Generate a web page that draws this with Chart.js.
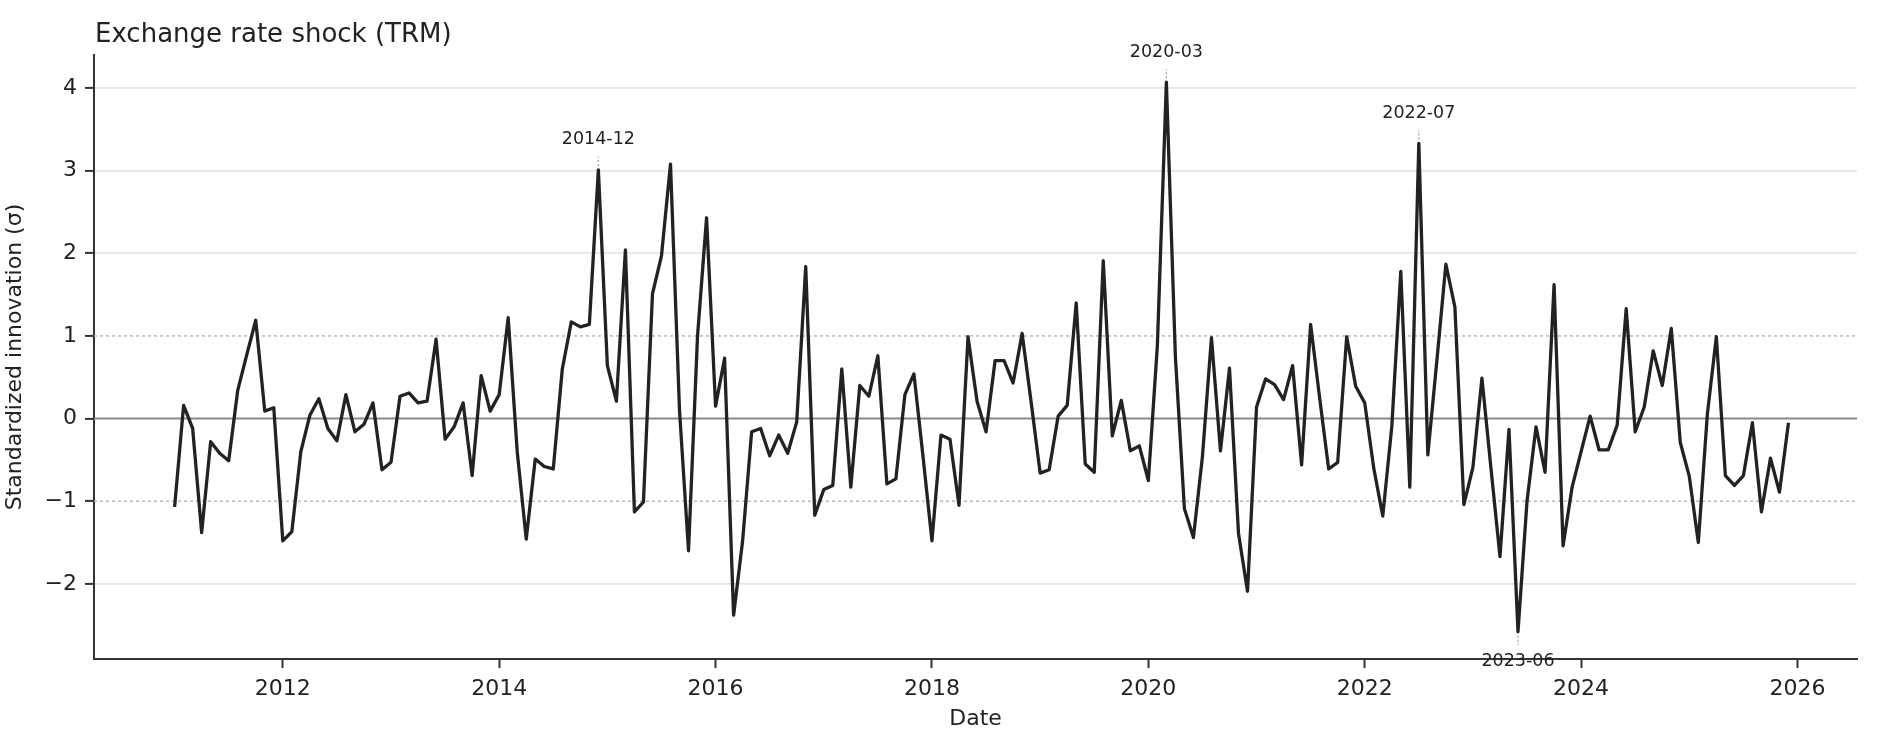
<!DOCTYPE html>
<html>
<head>
<meta charset="utf-8">
<title>Exchange rate shock (TRM)</title>
<script src="https://cdn.jsdelivr.net/npm/chart.js@4.4.1/dist/chart.umd.min.js"></script>
<style>
  html, body { margin: 0; padding: 0; background: #fff; overflow: hidden; }
  #wrap { width: 1877px; height: 748px; position: relative; }
</style>
</head>
<body>
<div id="wrap"><canvas id="shockChart"></canvas></div>
<script>
// Monthly standardized innovations, Jan 2011 - Dec 2025
const startYear = 2011;
const shockValues = [
  -1.07, 0.16, -0.12, -1.38, -0.28, -0.42, -0.51, 0.34, 0.77, 1.19, 0.09, 0.13,   // 2011
  -1.48, -1.37, -0.40, 0.04, 0.24, -0.12, -0.27, 0.29, -0.16, -0.07, 0.19, -0.62, // 2012
  -0.53, 0.27, 0.31, 0.19, 0.21, 0.96, -0.25, -0.10, 0.19, -0.69, 0.52, 0.09,     // 2013
  0.29, 1.22, -0.40, -1.46, -0.49, -0.58, -0.61, 0.60, 1.17, 1.11, 1.14, 3.01,    // 2014
  0.64, 0.21, 2.04, -1.13, -1.01, 1.51, 1.97, 3.08, 0.10, -1.60, 1.00, 2.43,      // 2015
  0.15, 0.73, -2.38, -1.48, -0.16, -0.12, -0.45, -0.20, -0.42, -0.04, 1.84, -1.17, // 2016
  -0.86, -0.81, 0.60, -0.83, 0.40, 0.27, 0.76, -0.79, -0.73, 0.29, 0.54, -0.45,   // 2017
  -1.48, -0.20, -0.25, -1.05, 0.99, 0.21, -0.16, 0.70, 0.70, 0.43, 1.03, 0.20,    // 2018
  -0.66, -0.62, 0.03, 0.16, 1.40, -0.55, -0.65, 1.91, -0.21, 0.22, -0.39, -0.33,  // 2019
  -0.75, 0.88, 4.07, 0.75, -1.09, -1.44, -0.46, 0.98, -0.39, 0.61, -1.39, -2.09,  // 2020
  0.14, 0.48, 0.41, 0.23, 0.64, -0.56, 1.14, 0.25, -0.61, -0.53, 0.99, 0.39,      // 2021
  0.19, -0.60, -1.18, -0.10, 1.78, -0.83, 3.33, -0.44, 0.70, 1.87, 1.35, -1.04,   // 2022
  -0.59, 0.49, -0.60, -1.67, -0.13, -2.58, -1.00, -0.10, -0.65, 1.62, -1.54, -0.83, // 2023
  -0.40, 0.03, -0.38, -0.38, -0.08, 1.33, -0.16, 0.14, 0.82, 0.40, 1.09, -0.29,   // 2024
  -0.70, -1.50, 0.05, 0.99, -0.69, -0.81, -0.69, -0.05, -1.13, -0.48, -0.89, -0.05 // 2025
];
const yearTicks = [2012, 2014, 2016, 2018, 2020, 2022, 2024, 2026];
const sigmaTicks = [-2, -1, 0, 1, 2, 3, 4];
const peakLabels = ['2014-12', '2020-03', '2022-07'];
const troughLabels = ['2023-06'];

const monthLabels = shockValues.map((v, i) => {
  const y = startYear + Math.floor(i / 12);
  const m = (i % 12) + 1;
  return y + '-' + (m < 10 ? '0' + m : m);
});
const points = shockValues.map((v, i) => ({ x: startYear + i / 12, y: v }));

Chart.defaults.font.family = "'DejaVu Sans', sans-serif";
Chart.defaults.color = '#222';

// reference lines at 0 and +/-1 sigma
const refLines = {
  id: 'refLines',
  beforeDatasetsDraw(chart) {
    const { ctx, chartArea, scales } = chart;
    ctx.save();
    [-1, 1].forEach(v => {
      const y = scales.y.getPixelForValue(v);
      ctx.strokeStyle = '#b4b4b4';
      ctx.lineWidth = 1.4;
      ctx.setLineDash([3, 3]);
      ctx.beginPath();
      ctx.moveTo(chartArea.left, y);
      ctx.lineTo(chartArea.right, y);
      ctx.stroke();
    });
    const y0 = scales.y.getPixelForValue(0);
    ctx.setLineDash([]);
    ctx.strokeStyle = '#8a8a8a';
    ctx.lineWidth = 2;
    ctx.beginPath();
    ctx.moveTo(chartArea.left, y0);
    ctx.lineTo(chartArea.right, y0);
    ctx.stroke();
    ctx.restore();
  }
};

// date labels for the largest shocks + title
const annotate = {
  id: 'annotate',
  afterDraw(chart) {
    const { ctx, scales } = chart;
    ctx.save();
    ctx.font = "17.5px 'DejaVu Sans'";
    ctx.fillStyle = '#222';
    ctx.textAlign = 'center';
    ctx.textBaseline = 'middle';
    const mark = (label, dir) => {
      const i = monthLabels.indexOf(label);
      if (i < 0) return;
      const x = scales.x.getPixelForValue(points[i].x);
      const y = scales.y.getPixelForValue(points[i].y);
      ctx.strokeStyle = '#9a9a9a';
      ctx.lineWidth = 1.2;
      ctx.setLineDash([2, 2]);
      ctx.beginPath();
      ctx.moveTo(x, y + dir * 4);
      ctx.lineTo(x, y + dir * 13);
      ctx.stroke();
      ctx.fillText(label, x, y + dir * 30);
    };
    peakLabels.forEach(l => mark(l, -1));
    troughLabels.forEach(l => mark(l, 1));

    ctx.setLineDash([]);
    ctx.textAlign = 'left';
    ctx.textBaseline = 'alphabetic';
    ctx.font = "26px 'DejaVu Sans'";
    ctx.fillText('Exchange rate shock (TRM)', 95, 42);
    ctx.restore();
  }
};

const shockCtx = document.getElementById('shockChart');
new Chart(shockCtx, {
  type: 'line',
  data: {
    datasets: [{
      label: 'Exchange rate shock',
      data: points,
      borderColor: '#222',
      borderWidth: 3.3,
      borderJoinStyle: 'round',
      pointRadius: 0,
      tension: 0,
      fill: false
    }]
  },
  options: {
    responsive: true,
    maintainAspectRatio: false,
    animation: false,
    devicePixelRatio: 1,
    layout: { padding: { top: 55, right: 20, left: 0, bottom: 0 } },
    plugins: {
      legend: { display: false },
      tooltip: { enabled: false }
    },
    scales: {
      x: {
        type: 'linear',
        min: 2010.255,
        max: 2026.55,
        afterBuildTicks: s => { s.ticks = yearTicks.map(v => ({ value: v })); },
        afterFit: s => { s.height = 89; },
        ticks: {
          callback: v => String(v),
          font: { size: 22 },
          color: '#222',
          padding: 8,
          maxRotation: 0,
          autoSkip: false
        },
        grid: {
          drawOnChartArea: false,
          drawTicks: true,
          tickLength: 9,
          tickWidth: 2,
          tickColor: '#333'
        },
        border: { display: true, color: '#333', width: 2 },
        title: {
          display: true,
          text: 'Date',
          font: { size: 22 },
          color: '#222',
          padding: { top: 4, bottom: 16 }
        }
      },
      y: {
        min: -2.91,
        max: 4.40,
        afterBuildTicks: s => { s.ticks = sigmaTicks.map(v => ({ value: v })); },
        afterFit: s => { s.width = 94; },
        ticks: {
          callback: v => (v < 0 ? '\u2212' + Math.abs(v) : String(v)),
          font: { size: 22 },
          color: '#222',
          padding: 8
        },
        grid: {
          color: c => ([0, 1, -1].includes(c.tick.value) ? 'rgba(0,0,0,0)' : '#e4e4e4'),
          lineWidth: 1.8,
          tickLength: 9,
          tickWidth: 2,
          tickColor: '#333'
        },
        border: { display: true, color: '#333', width: 2 },
        title: {
          display: true,
          text: 'Standardized innovation (\u03c3)',
          font: { size: 22 },
          color: '#222',
          padding: { top: 2, bottom: 0 }
        }
      }
    }
  },
  plugins: [refLines, annotate]
});
</script>
</body>
</html>
